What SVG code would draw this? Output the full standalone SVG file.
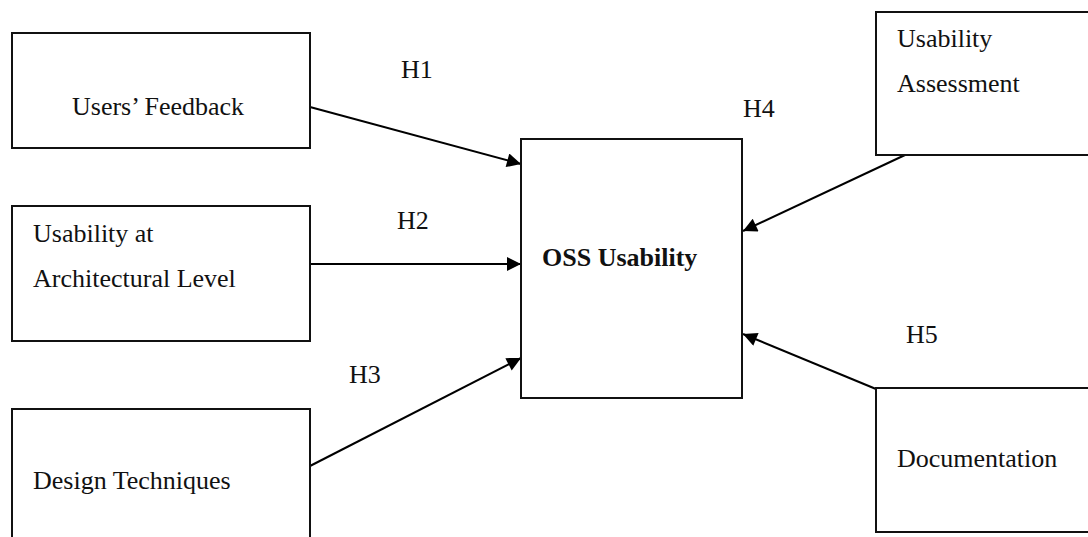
<svg xmlns="http://www.w3.org/2000/svg" width="1088" height="537" viewBox="0 0 1088 537">
<style>
.box{fill:#fff;stroke:#111;stroke-width:2}
.t{font-family:"Liberation Serif","Times New Roman",serif;font-size:26px;fill:#111}
.b{font-weight:bold}
.c{stroke:#000;stroke-width:2;fill:none;marker-end:url(#ah)}
</style>
<defs>
<marker id="ah" viewBox="0 0 10 10" refX="10" refY="5" markerWidth="8" markerHeight="7" markerUnits="strokeWidth" orient="auto">
<path d="M0,0 L10,5 L0,10 Z" fill="#000"/>
</marker>
</defs>
<rect width="1088" height="537" fill="#fff"/>
<g id="connectors">
<line class="c" x1="310" y1="107" x2="521" y2="164"/>
<line class="c" x1="310" y1="264" x2="521" y2="264"/>
<line class="c" x1="310" y1="466" x2="521" y2="358"/>
<line class="c" x1="905" y1="155" x2="743" y2="231"/>
<line class="c" x1="876" y1="389" x2="743" y2="334"/>
<text class="t" x="401" y="78">H1</text>
<text class="t" x="397" y="229">H2</text>
<text class="t" x="349" y="383">H3</text>
<text class="t" x="743" y="117">H4</text>
<text class="t" x="906" y="343">H5</text>
</g>
<g id="users-feedback">
<rect class="box" x="12" y="33" width="298" height="115"/>
<text class="t" x="72" y="115">Users’ Feedback</text>
</g>
<g id="usability-arch">
<rect class="box" x="12" y="206" width="298" height="135"/>
<text class="t" x="33" y="242">Usability at</text>
<text class="t" x="33" y="287">Architectural Level</text>
</g>
<g id="design-techniques">
<rect class="box" x="12" y="409" width="298" height="150"/>
<text class="t" x="33" y="489">Design Techniques</text>
</g>
<g id="oss-usability">
<rect class="box" x="521" y="139" width="221" height="259"/>
<text class="t b" x="542" y="266">OSS Usability</text>
</g>
<g id="usability-assessment">
<rect class="box" x="876" y="12" width="230" height="143"/>
<text class="t" x="897" y="47">Usability</text>
<text class="t" x="897" y="92">Assessment</text>
</g>
<g id="documentation">
<rect class="box" x="876" y="388" width="230" height="144"/>
<text class="t" x="897" y="467">Documentation</text>
</g>
</svg>
